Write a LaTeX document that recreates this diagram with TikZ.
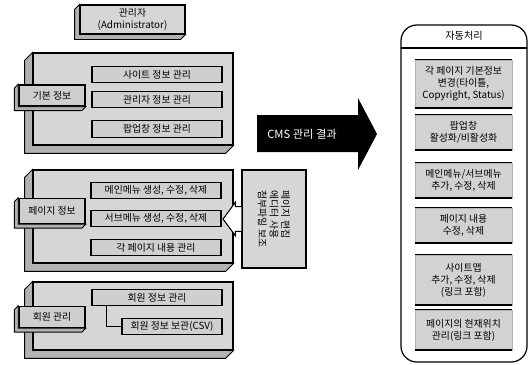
\documentclass[tikz,border=0pt]{standalone}
\usepackage{fontspec}
\setmainfont{Noto Sans CJK KR}
\usetikzlibrary{positioning}
\usetikzlibrary{calc}
\tikzset{
  face/.style = {draw, fill=gray!32, line width=0.6pt, inner sep=0pt},
  tagbox/.style = {draw, fill=gray!38, line width=0.8pt, inner sep=0pt,
    minimum width=1.32cm, font=\fontsize{5.6}{6.6}\selectfont},
  item/.style = {draw, fill=gray!38, line width=0.8pt, inner sep=0pt,
    minimum height=0.33cm, font=\fontsize{5.6}{6.6}\selectfont},
  autobox/.style = {fill=gray!35, draw=gray!60, line width=0.4pt, inner sep=0pt,
    minimum width=1.94cm, align=center, font=\fontsize{5.6}{6.8}\selectfont},
}
% raised edge on the left and bottom of a node
\newcommand{\bevel}[2]{%
  \filldraw[fill=gray!60, line width=0.5pt] (#1.north west) -- ++(-#2,-#2)
    |- ($(#1.south east)+(-#2,-#2)$) -- (#1.south east) -- (#1.south west) -- cycle;}

\begin{document}
\begin{tikzpicture}[x=0.02cm, y=-0.02cm]
    \useasboundingbox (0,0) rectangle (531,365);

    % administrator
    \node[face, minimum width=2.1cm, minimum height=0.58cm, align=center,
      font=\fontsize{5.6}{6.8}\selectfont] (admin) at (132.5,19.5) {관리자\\(Administrator)};
    \bevel{admin}{2.8pt}

    % three groups on the left
    \node[face, minimum width=4cm, minimum height=1.84cm] (basic) at (133,99) {};
    \node[face, minimum width=4cm, minimum height=1.86cm] (page) at (133,216.5) {};
    \node[face, minimum width=4cm, minimum height=1.36cm] (member) at (133,316) {};
    \foreach \p in {basic, page, member} {
        \bevel{\p}{4.5pt}
    }

    \node[tagbox, minimum height=0.42cm] (basictag) at (52,95.5) {기본 정보};
    \node[tagbox, minimum height=0.5cm] (pagetag) at (52,211) {페이지 정보};
    \node[tagbox, minimum height=0.42cm] (membertag) at (52,317) {회원 관리};
    \foreach \p in {basictag, pagetag, membertag} {
        \bevel{\p}{2.2pt}
    }

    \node[item, minimum width=2.6cm] (site) at (157,74.5) {사이트 정보 관리};
    \node[item, minimum width=2.6cm] (manager) at (157,99.5) {관리자 정보 관리};
    \node[item, minimum width=2.6cm] (popup) at (157,129) {팝업창 정보 관리};

    \node[item, minimum width=2.6cm] (mainmenu) at (156,190.5) {메인메뉴 생성, 수정, 삭제};
    \node[item, minimum width=2.6cm] (submenu) at (156,218.5) {서브메뉴 생성, 수정, 삭제};
    \node[item, minimum width=2.6cm] (content) at (156,247.5) {각 페이지 내용 관리};

    \node[item, minimum width=2.6cm] (memberinfo) at (157,297.5) {회원 정보 관리};
    \node[item, minimum width=2.0cm] (memberkeep) at (172,326.5) {회원 정보 보관(CSV)};
    \draw[line width=0.6pt] ($(memberinfo.south west)+(0.3cm,0)$) |- (memberkeep.west);

    % editing tools beside the page group
    \node[face, minimum width=1.28cm, minimum height=1.96cm] (tools) at (274,219) {};
    \node[rotate=-90, align=left, font=\fontsize{5.6}{6.6}\selectfont] (toolstext)
      at (tools.center) {페이지 편집\\에디터 사용\\첨부파일 보조};
    \filldraw[fill=white, line width=0.6pt]
      ($(tools.west)+(0,-7pt)$) -- ++(-3.5pt,0) -- ++(0,-2.5pt)
      -- ($(tools.west)+(-10.5pt,0)$)
      -- ($(tools.west)+(-3.5pt,9.5pt)$) -- ++(0,-2.5pt) -- ($(tools.west)+(0,7pt)$);

    % result arrow
    \fill (257,115) -- (358,115) -- (358,98) -- (377,134) -- (358,170)
      -- (358,152) -- (257,152) -- cycle;
    \node[text=white, font=\fontsize{6.4}{7}\selectfont] (cms) at (302,134) {CMS 관리 결과};

    % automatic processing
    \draw[line width=0.7pt, rounded corners=9pt] (401,25) rectangle (527,362);
    \node[font=\fontsize{5.8}{7}\selectfont] (autohead) at (464,36) {자동처리};
    \draw[line width=1pt] (401,48) -- (527,48);

    \foreach \i/\y/\h/\txt in {
        1/84/0.96/{각 페이지 기본정보\\변경(타이틀,\\Copyright, Status)},
        2/132.5/0.7/{팝업창\\활성화/비활성화},
        3/180.5/0.7/{메인메뉴/서브메뉴\\추가, 수정, 삭제},
        4/225.5/0.7/{페이지 내용\\수정, 삭제},
        5/280/1.0/{사이트맵\\추가, 수정, 삭제\\(링크 포함)},
        6/330/0.8/{페이지의 현재위치\\관리(링크 포함)}} {
        \node[autobox, minimum height=\h cm] (auto\i) at (463.5,\y) {\txt};
        \draw[line width=1pt] (auto\i.south west) -- (auto\i.south east);
        \draw[line width=0.6pt] (auto\i.north west) -- (auto\i.north east);
    }
\end{tikzpicture}
\end{document}
